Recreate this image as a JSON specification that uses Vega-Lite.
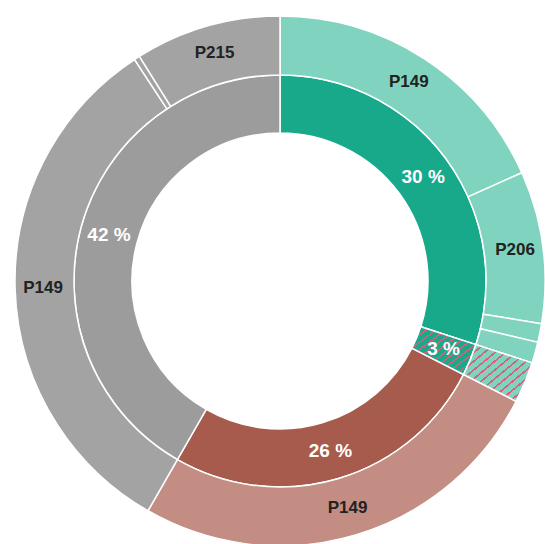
{
  "$schema": "https://vega.github.io/schema/vega-lite/v6.json",
  "width": 530,
  "height": 528,
  "autosize": "none",
  "padding": {"left": 15, "top": 17, "right": 0, "bottom": 0},
  "background": "white",
  "config": {"view": {"stroke": null}},
  "datasets": {
    "inner": [
      {"k": 1, "parent": "A", "value": 30.0, "label": "30 %"},
      {"k": 2, "parent": "B", "value": 2.5, "label": "3 %"},
      {"k": 3, "parent": "C", "value": 25.8, "label": "26 %"},
      {"k": 4, "parent": "D", "value": 41.7, "label": "42 %"}
    ],
    "outer": [
      {"k": 1, "parent": "A", "value": 18.3, "label": "P149"},
      {"k": 2, "parent": "A", "value": 9.28, "label": "P206"},
      {"k": 3, "parent": "A", "value": 1.14, "label": ""},
      {"k": 4, "parent": "A", "value": 1.28, "label": ""},
      {"k": 5, "parent": "B", "value": 2.5, "label": ""},
      {"k": 6, "parent": "C", "value": 25.8, "label": "P149"},
      {"k": 7, "parent": "D", "value": 32.45, "label": "P149"},
      {"k": 8, "parent": "D", "value": 0.35, "label": ""},
      {"k": 9, "parent": "D", "value": 8.9, "label": "P215"}
    ]
  },
  "resolve": {"scale": {"color": "independent"}},
  "layer": [
    {
      "data": {"name": "inner"},
      "mark": {"type": "arc", "radius": 206, "radius2": 148, "stroke": "white", "strokeWidth": 1.5},
      "encoding": {
        "theta": {"field": "value", "type": "quantitative", "stack": true, "scale": {"domain": [0, 100]}},
        "order": {"field": "k", "type": "quantitative"},
        "color": {"field": "parent", "type": "nominal", "legend": null,
          "scale": {"domain": ["A", "B", "C", "D"], "range": ["#17a98a", "#17a98a", "#a65b4c", "#9c9c9c"]}}
      }
    },
    {
      "data": {"name": "inner"},
      "mark": {"type": "arc", "radius": 206, "radius2": 148, "stroke": "white", "strokeWidth": 1.5,
        "fill": {"gradient": "linear", "x1": 0, "y1": 0, "x2": 1, "y2": 1, "stops": [
          {"offset": 0, "color": "#17a98a"}, {"offset": 0.058, "color": "#17a98a"}, {"offset": 0.058, "color": "#d9607a"}, {"offset": 0.0769, "color": "#d9607a"},
          {"offset": 0.0769, "color": "#17a98a"}, {"offset": 0.1349, "color": "#17a98a"}, {"offset": 0.1349, "color": "#d9607a"}, {"offset": 0.1538, "color": "#d9607a"},
          {"offset": 0.1538, "color": "#17a98a"}, {"offset": 0.2118, "color": "#17a98a"}, {"offset": 0.2118, "color": "#d9607a"}, {"offset": 0.2308, "color": "#d9607a"},
          {"offset": 0.2308, "color": "#17a98a"}, {"offset": 0.2888, "color": "#17a98a"}, {"offset": 0.2888, "color": "#d9607a"}, {"offset": 0.3077, "color": "#d9607a"},
          {"offset": 0.3077, "color": "#17a98a"}, {"offset": 0.3657, "color": "#17a98a"}, {"offset": 0.3657, "color": "#d9607a"}, {"offset": 0.3846, "color": "#d9607a"},
          {"offset": 0.3846, "color": "#17a98a"}, {"offset": 0.4426, "color": "#17a98a"}, {"offset": 0.4426, "color": "#d9607a"}, {"offset": 0.4615, "color": "#d9607a"},
          {"offset": 0.4615, "color": "#17a98a"}, {"offset": 0.5195, "color": "#17a98a"}, {"offset": 0.5195, "color": "#d9607a"}, {"offset": 0.5385, "color": "#d9607a"},
          {"offset": 0.5385, "color": "#17a98a"}, {"offset": 0.5965, "color": "#17a98a"}, {"offset": 0.5965, "color": "#d9607a"}, {"offset": 0.6154, "color": "#d9607a"},
          {"offset": 0.6154, "color": "#17a98a"}, {"offset": 0.6734, "color": "#17a98a"}, {"offset": 0.6734, "color": "#d9607a"}, {"offset": 0.6923, "color": "#d9607a"},
          {"offset": 0.6923, "color": "#17a98a"}, {"offset": 0.7503, "color": "#17a98a"}, {"offset": 0.7503, "color": "#d9607a"}, {"offset": 0.7692, "color": "#d9607a"},
          {"offset": 0.7692, "color": "#17a98a"}, {"offset": 0.8272, "color": "#17a98a"}, {"offset": 0.8272, "color": "#d9607a"}, {"offset": 0.8462, "color": "#d9607a"},
          {"offset": 0.8462, "color": "#17a98a"}, {"offset": 0.9042, "color": "#17a98a"}, {"offset": 0.9042, "color": "#d9607a"}, {"offset": 0.9231, "color": "#d9607a"},
          {"offset": 0.9231, "color": "#17a98a"}, {"offset": 0.9811, "color": "#17a98a"}, {"offset": 0.9811, "color": "#d9607a"}, {"offset": 1, "color": "#d9607a"}
        ]}},
      "encoding": {
        "theta": {"field": "value", "type": "quantitative", "stack": true, "scale": {"domain": [0, 100]}},
        "order": {"field": "k", "type": "quantitative"},
        "opacity": {"condition": {"test": "datum.parent === 'B'", "value": 1}, "value": 0}
      }
    },
    {
      "data": {"name": "outer"},
      "mark": {"type": "arc", "radius": 265, "radius2": 206, "stroke": "white", "strokeWidth": 1.5},
      "encoding": {
        "theta": {"field": "value", "type": "quantitative", "stack": true, "scale": {"domain": [0, 100]}},
        "order": {"field": "k", "type": "quantitative"},
        "color": {"field": "parent", "type": "nominal", "legend": null,
          "scale": {"domain": ["A", "B", "C", "D"], "range": ["#80d4bf", "#80d4bf", "#c38d83", "#a3a3a3"]}}
      }
    },
    {
      "data": {"name": "outer"},
      "mark": {"type": "arc", "radius": 265, "radius2": 206, "stroke": "white", "strokeWidth": 1.5,
        "fill": {"gradient": "linear", "x1": 0, "y1": 0, "x2": 1, "y2": 1, "stops": [
          {"offset": 0, "color": "#80d4bf"}, {"offset": 0.058, "color": "#80d4bf"}, {"offset": 0.058, "color": "#d9607a"}, {"offset": 0.0769, "color": "#d9607a"},
          {"offset": 0.0769, "color": "#80d4bf"}, {"offset": 0.1349, "color": "#80d4bf"}, {"offset": 0.1349, "color": "#d9607a"}, {"offset": 0.1538, "color": "#d9607a"},
          {"offset": 0.1538, "color": "#80d4bf"}, {"offset": 0.2118, "color": "#80d4bf"}, {"offset": 0.2118, "color": "#d9607a"}, {"offset": 0.2308, "color": "#d9607a"},
          {"offset": 0.2308, "color": "#80d4bf"}, {"offset": 0.2888, "color": "#80d4bf"}, {"offset": 0.2888, "color": "#d9607a"}, {"offset": 0.3077, "color": "#d9607a"},
          {"offset": 0.3077, "color": "#80d4bf"}, {"offset": 0.3657, "color": "#80d4bf"}, {"offset": 0.3657, "color": "#d9607a"}, {"offset": 0.3846, "color": "#d9607a"},
          {"offset": 0.3846, "color": "#80d4bf"}, {"offset": 0.4426, "color": "#80d4bf"}, {"offset": 0.4426, "color": "#d9607a"}, {"offset": 0.4615, "color": "#d9607a"},
          {"offset": 0.4615, "color": "#80d4bf"}, {"offset": 0.5195, "color": "#80d4bf"}, {"offset": 0.5195, "color": "#d9607a"}, {"offset": 0.5385, "color": "#d9607a"},
          {"offset": 0.5385, "color": "#80d4bf"}, {"offset": 0.5965, "color": "#80d4bf"}, {"offset": 0.5965, "color": "#d9607a"}, {"offset": 0.6154, "color": "#d9607a"},
          {"offset": 0.6154, "color": "#80d4bf"}, {"offset": 0.6734, "color": "#80d4bf"}, {"offset": 0.6734, "color": "#d9607a"}, {"offset": 0.6923, "color": "#d9607a"},
          {"offset": 0.6923, "color": "#80d4bf"}, {"offset": 0.7503, "color": "#80d4bf"}, {"offset": 0.7503, "color": "#d9607a"}, {"offset": 0.7692, "color": "#d9607a"},
          {"offset": 0.7692, "color": "#80d4bf"}, {"offset": 0.8272, "color": "#80d4bf"}, {"offset": 0.8272, "color": "#d9607a"}, {"offset": 0.8462, "color": "#d9607a"},
          {"offset": 0.8462, "color": "#80d4bf"}, {"offset": 0.9042, "color": "#80d4bf"}, {"offset": 0.9042, "color": "#d9607a"}, {"offset": 0.9231, "color": "#d9607a"},
          {"offset": 0.9231, "color": "#80d4bf"}, {"offset": 0.9811, "color": "#80d4bf"}, {"offset": 0.9811, "color": "#d9607a"}, {"offset": 1, "color": "#d9607a"}
        ]}},
      "encoding": {
        "theta": {"field": "value", "type": "quantitative", "stack": true, "scale": {"domain": [0, 100]}},
        "order": {"field": "k", "type": "quantitative"},
        "opacity": {"condition": {"test": "datum.parent === 'B'", "value": 1}, "value": 0}
      }
    },
    {
      "data": {"name": "inner"},
      "mark": {"type": "text", "radius": 177, "color": "white", "font": "Liberation Sans", "fontWeight": "bold", "fontSize": 19, "align": "center", "baseline": "middle"},
      "encoding": {
        "theta": {"field": "value", "type": "quantitative", "stack": true, "scale": {"domain": [0, 100]}},
        "order": {"field": "k", "type": "quantitative"},
        "text": {"field": "label", "type": "nominal"}
      }
    },
    {
      "data": {"name": "outer"},
      "mark": {"type": "text", "radius": 237, "color": "#222222", "font": "Liberation Sans", "fontWeight": "bold", "fontSize": 17, "align": "center", "baseline": "middle"},
      "encoding": {
        "theta": {"field": "value", "type": "quantitative", "stack": true, "scale": {"domain": [0, 100]}},
        "order": {"field": "k", "type": "quantitative"},
        "text": {"field": "label", "type": "nominal"}
      }
    }
  ]
}
